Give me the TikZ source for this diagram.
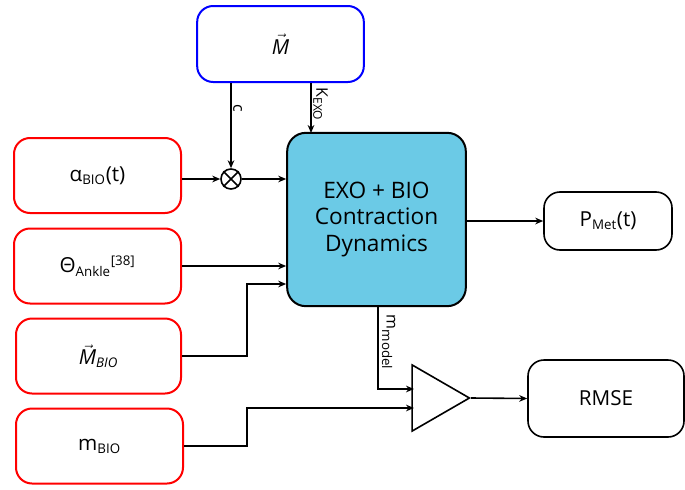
\documentclass[tikz,border=0pt]{standalone}
\usepackage{fontspec}
\setmainfont{Open Sans}
\usepackage{amsmath}
\usetikzlibrary{arrows.meta,shapes.geometric}
\newcommand{\vecM}{\ensuremath{\vec{\text{\itshape M}}}}
\begin{document}
\begin{tikzpicture}[x=0.75pt,y=-0.75pt,
  redbox/.style={draw=red,line width=1.5pt,rounded corners=12pt,minimum width=125.25pt,minimum height=56.25pt,fill=white,font=\fontsize{15.5}{17}\selectfont},
  blkbox/.style={draw=black,line width=1.2pt,rounded corners=12pt,fill=white,font=\fontsize{15.5}{17}\selectfont},
  conn/.style={line width=1.2pt,-{Stealth[length=6pt,width=5pt]}},
  lab/.style={font=\fontsize{12}{13}\selectfont,rotate=-90,inner sep=1pt}]
\useasboundingbox (0,0) rectangle (685,489);
% M box
\node[draw=blue,line width=1.5pt,rounded corners=12pt,minimum width=125pt,minimum height=57pt,font=\fontsize{15.5}{17}\selectfont] (M) at (280.5,44) {\vecM};
% red inputs
\node[redbox] (alpha) at (97.5,175.5) {α\textsubscript{\fontsize{10}{11}\selectfont BIO}(t)};
\node[redbox] (theta) at (97.5,266) {Θ\textsubscript{\fontsize{10}{11}\selectfont Ankle}\textsuperscript{\fontsize{10}{11}\selectfont [38]}};
\node[redbox,minimum width=123.75pt] (mbio) at (98.5,356) {\vecM\textsubscript{\fontsize{10}{11}\selectfont\itshape BIO}};
\node[redbox] (mmass) at (99.5,446) {m\textsubscript{\fontsize{10}{11}\selectfont BIO}};
% main block
\node[draw=black,line width=1.5pt,rounded corners=14pt,fill={rgb,255:red,107;green,202;blue,230},minimum width=134pt,minimum height=130pt,align=center,font=\fontsize{17}{20}\selectfont] (exo) at (376.5,219.5) {EXO + BIO\\Contraction\\Dynamics};
% outputs
\node[blkbox,minimum width=96pt,minimum height=43.5pt] (pmet) at (608,221) {P\textsubscript{\fontsize{10}{11}\selectfont Met}(t)};
\node[blkbox,minimum width=117pt,minimum height=57.75pt] (rmse) at (606,398.5) {RMSE};
% multiplier
\node[draw,circle,line width=1.2pt,minimum size=15pt,inner sep=0pt] (mult) at (231,179) {};
\draw[line width=1.2pt] (mult.north west) -- (mult.south east) (mult.north east) -- (mult.south west);
% comparator triangle
\node[draw,isosceles triangle,isosceles triangle apex angle=60,line width=1.2pt,minimum height=43pt,inner sep=0pt,anchor=apex] (cmp) at (471,398) {};
% connectors
\draw[conn] (M.south -| mult.north) -- node[lab,pos=0.2,anchor=south west,xshift=2pt] {c} (mult.north);
\coordinate (kin) at (311,133);
\draw[conn] (M.south -| kin) -- node[lab,pos=0.0,anchor=south west,xshift=2pt] {K\textsubscript{\fontsize{9}{10}\selectfont EXO}} (kin);
\draw[conn] (alpha.east |- mult) -- (mult.west);
\draw[conn] (mult.east) -- (exo.west |- mult);
\draw[conn] (theta.east) -- (exo.west |- theta);
\coordinate (j1) at (247,284);
\draw[conn] (mbio.east) -| (j1) -- (exo.west |- j1);
\coordinate (j2) at (247,408);
\coordinate (cin1) at (414,389);
\coordinate (cin2) at (414,408);
\draw[conn] (mmass.east) -| (j2) -- (cin2);
\coordinate (ex1) at (378,306);
\draw[conn] (ex1) |- (cin1);
\coordinate (mlab) at (379,312);
\node[lab,anchor=south west,inner sep=2pt] (mm) at (mlab) {m\textsubscript{\fontsize{10}{11}\selectfont model}};
\draw[conn] (exo.east |- pmet) -- (pmet.west);
\draw[conn] (cmp.apex) -- (rmse.west);
\end{tikzpicture}
\end{document}
